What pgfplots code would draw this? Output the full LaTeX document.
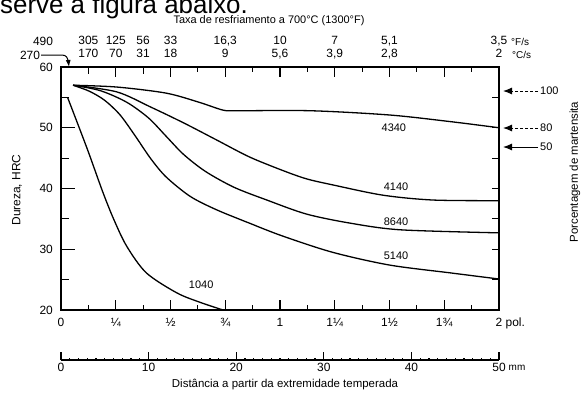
\documentclass[border=0pt]{standalone}
\usepackage{fontspec}
\setmainfont{Liberation Sans}
\usepackage{pgfplots}
\pgfplotsset{compat=1.18}
\usetikzlibrary{arrows.meta}

\pgfplotsset{
  base/.style={scale only axis, width=438bp, height=243bp, at={(61bp,82bp)}, anchor=south west,
    xmin=0, xmax=2, ymin=20, ymax=60, tick align=inside,
    /pgf/number format/assume math mode=true,
    axis line style={line width=1.6bp}, every tick/.style={black, line width=1.2bp}},
  curve/.style={black, line width=1.3bp, smooth, tension=0.5, no markers},
}

\begin{document}
\begin{tikzpicture}[x=1bp,y=1bp]
% main axis: box, curves, x ticks
\begin{axis}[base,
  xtick={0,0.25,...,2}, minor x tick num=1,
  major tick length=10bp, minor tick length=5bp,
  xticklabel pos=bottom,
  xticklabels={0,¼,½,¾,1,1¼,1½,1¾,2\rlap{ pol.}},
  xticklabel style={anchor=north, inner sep=0pt, yshift=-8bp, font=\fontsize{12}{14}\selectfont},
  ytick=\empty]
\addplot[curve] coordinates {(0.03,55) (0.12,46.5) (0.19,39.5) (0.24,35) (0.30,30.5) (0.39,26.1) (0.53,22.8) (0.64,21.2) (0.74,20)};
\addplot[curve] coordinates {(0.055,57) (0.13,56) (0.20,54.5) (0.27,52.1) (0.34,48.6) (0.41,44.9) (0.48,41.9) (0.59,38.7) (0.71,36.5) (0.86,34.3) (1.01,32.2) (1.24,29.5) (1.50,27.4) (1.78,26.1) (2.0,25.1)};
\addplot[curve] coordinates {(0.055,57) (0.18,56.1) (0.30,54.2) (0.40,51.6) (0.48,48.6) (0.56,45.6) (0.66,42.8) (0.79,40.2) (0.94,38.1) (1.12,35.8) (1.32,34.3) (1.55,33.2) (2.0,32.7)};
\addplot[curve] coordinates {(0.055,57) (0.255,55.9) (0.41,53.4) (0.56,50.8) (0.71,48) (0.86,45.2) (1.01,43) (1.12,41.6) (1.24,40.6) (1.47,38.9) (1.70,38.1) (2.0,38)};
\addplot[curve] coordinates {(0.055,57) (0.255,56.7) (0.48,55.7) (0.63,54.2) (0.74,52.9) (0.80,52.8) (1.14,52.8) (1.50,52.1) (1.78,51) (2.0,50)};
\node[font=\fontsize{11}{13}\selectfont] at (axis cs:0.64,24.1) {1040};
\node[font=\fontsize{11}{13}\selectfont] at (axis cs:1.52,50) {4340};
\node[font=\fontsize{11}{13}\selectfont] at (axis cs:1.53,40.3) {4140};
\node[font=\fontsize{11}{13}\selectfont] at (axis cs:1.53,34.5) {8640};
\node[font=\fontsize{11}{13}\selectfont] at (axis cs:1.53,29) {5140};
\end{axis}
% left y ticks and labels
\begin{axis}[base, hide x axis, axis y line*=left,
  ytick={20,30,...,60}, minor y tick num=1,
  major tick length=14bp, minor tick length=8bp,
  yticklabel style={anchor=east, inner sep=0pt, xshift=-8bp, font=\fontsize{12}{14}\selectfont}]
\end{axis}
% right y ticks and top labels
\begin{axis}[base, axis x line*=top, axis y line*=right,
  ytick={20,30,...,60}, minor y tick num=1, yticklabels={},
  major tick length=7bp, minor tick length=7bp,
  xtick={0.125,0.25,0.375,0.5,0.75,1,1.25,1.5,2},
  xticklabels={{305\\170},{125\\70},{56\\31},{33\\18},{16,3\\9},{10\\5,6},{7\\3,9},{5,1\\2,8},{3,5\\2}},
  xticklabel style={align=center, anchor=south, inner sep=0pt, text depth=0pt, yshift=9bp, font=\fontsize{12}{13}\selectfont}]
\end{axis}
% mm scale
\begin{axis}[scale only axis, width=438bp, height=10bp, at={(61bp,32bp)}, anchor=south west,
  xmin=0, xmax=50, ymin=0, ymax=1, axis x line*=bottom, hide y axis,
  tick align=inside, xtick={0,10,...,50}, minor x tick num=9,
  major tick length=8bp, minor tick length=2bp,
  /pgf/number format/assume math mode=true,
  axis line style={line width=1.5bp}, every tick/.style={black, line width=1.2bp},
  xticklabel style={anchor=north, inner sep=0pt, yshift=-3bp, font=\fontsize{12}{14}\selectfont}]
\end{axis}
% texts
\node[anchor=base west, inner sep=0pt, font=\fontsize{26}{30}\selectfont] at (0,378.7) {serve a figura abaixo.};
\node[font=\fontsize{11}{13}\selectfont] at (269,371) {Taxa de resfriamento a 700°C (1300°F)};
\node[anchor=base, inner sep=0pt, font=\fontsize{12}{14}\selectfont] at (43,347) {490};
\node[font=\fontsize{12}{14}\selectfont] at (30,337) {270};
\draw[line width=1bp, -{Latex[length=7bp,width=5bp]}] (41,337) -- (62,337) .. controls (66,337) and (68,334) .. (69,325);
\node[anchor=base west, inner sep=0pt, font=\fontsize{10}{12}\selectfont] at (511,347) {°F/s};
\node[anchor=base west, inner sep=0pt, font=\fontsize{10}{12}\selectfont] at (512,334) {°C/s};
\node[font=\fontsize{10}{12}\selectfont] at (517,24) {mm};
\node[font=\fontsize{11.5}{13}\selectfont] at (285,7) {Distância a partir da extremidade temperada};
\node[rotate=90, font=\fontsize{12}{14}\selectfont] at (17,202) {Dureza, HRC};
\node[rotate=90, font=\fontsize{11.5}{13}\selectfont] at (575,220) {Porcentagem de martensita};
\draw[line width=1bp, densely dashed, -{Latex[length=9bp,width=7bp]}] (538,301) -- (503,301);
\draw[line width=1bp, densely dashed, -{Latex[length=9bp,width=7bp]}] (538,264) -- (503,264);
\draw[line width=1bp, -{Latex[length=9bp,width=7bp]}] (538,245) -- (503,245);
\node[anchor=west, inner sep=0pt, font=\fontsize{11}{13}\selectfont] at (540,301) {100};
\node[anchor=west, inner sep=0pt, font=\fontsize{11}{13}\selectfont] at (540,264) {80};
\node[anchor=west, inner sep=0pt, font=\fontsize{11}{13}\selectfont] at (540,245) {50};
\pgfresetboundingbox
\useasboundingbox (0,0) rectangle (585,392);
\end{tikzpicture}
\end{document}
